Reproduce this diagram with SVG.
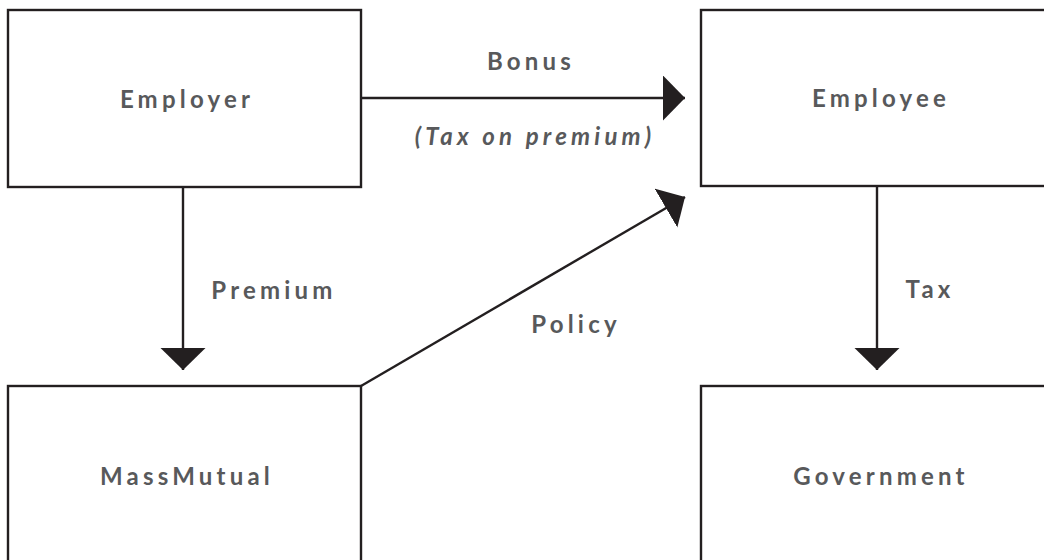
<svg xmlns="http://www.w3.org/2000/svg" width="1044" height="560" viewBox="0 0 1044 560">
  <style>
    .box { fill: #ffffff; stroke: #231f20; stroke-width: 2.4; }
    .lbl { font-family: Lato, "Liberation Sans", sans-serif; font-weight: 700; font-size: 24px; letter-spacing: 4.2px; fill: #58595b; text-anchor: middle; }
    .it { font-style: italic; }
    .edge { stroke: #231f20; stroke-width: 2.4; fill: none; }
  </style>
  <defs>
    <marker id="arrow" markerUnits="userSpaceOnUse" markerWidth="24" markerHeight="46" refX="22" refY="22.5" orient="auto" viewBox="0 0 24 46">
      <path d="M0,0 L22,22.5 L0,45 Z" fill="#231f20"/>
    </marker>
  </defs>
  <rect width="1044" height="560" fill="#ffffff"/>
  <g id="employer">
    <rect class="box" x="8" y="10" width="353" height="177"/>
    <text class="lbl" x="187" y="108">Employer</text>
  </g>
  <g id="employee">
    <rect class="box" x="701" y="10" width="354" height="176"/>
    <text class="lbl" x="881" y="107">Employee</text>
  </g>
  <g id="massmutual">
    <rect class="box" x="8" y="386" width="353" height="190"/>
    <text class="lbl" x="187" y="485">MassMutual</text>
  </g>
  <g id="government">
    <rect class="box" x="701" y="386" width="354" height="190"/>
    <text class="lbl" x="881" y="485">Government</text>
  </g>
  <g id="connectors">
    <line class="edge" x1="361" y1="98" x2="685" y2="98" marker-end="url(#arrow)"/>
    <line class="edge" x1="183" y1="187" x2="183" y2="370" marker-end="url(#arrow)"/>
    <line class="edge" x1="877" y1="186" x2="877" y2="370" marker-end="url(#arrow)"/>
    <line class="edge" x1="361" y1="386" x2="685" y2="197" marker-end="url(#arrow)"/>
    <text class="lbl" x="531" y="70">Bonus</text>
    <text class="lbl it" x="535" y="145">(Tax on premium)</text>
    <text class="lbl" x="274" y="299">Premium</text>
    <text class="lbl" x="930" y="298">Tax</text>
    <text class="lbl" x="576" y="333">Policy</text>
  </g>
</svg>
